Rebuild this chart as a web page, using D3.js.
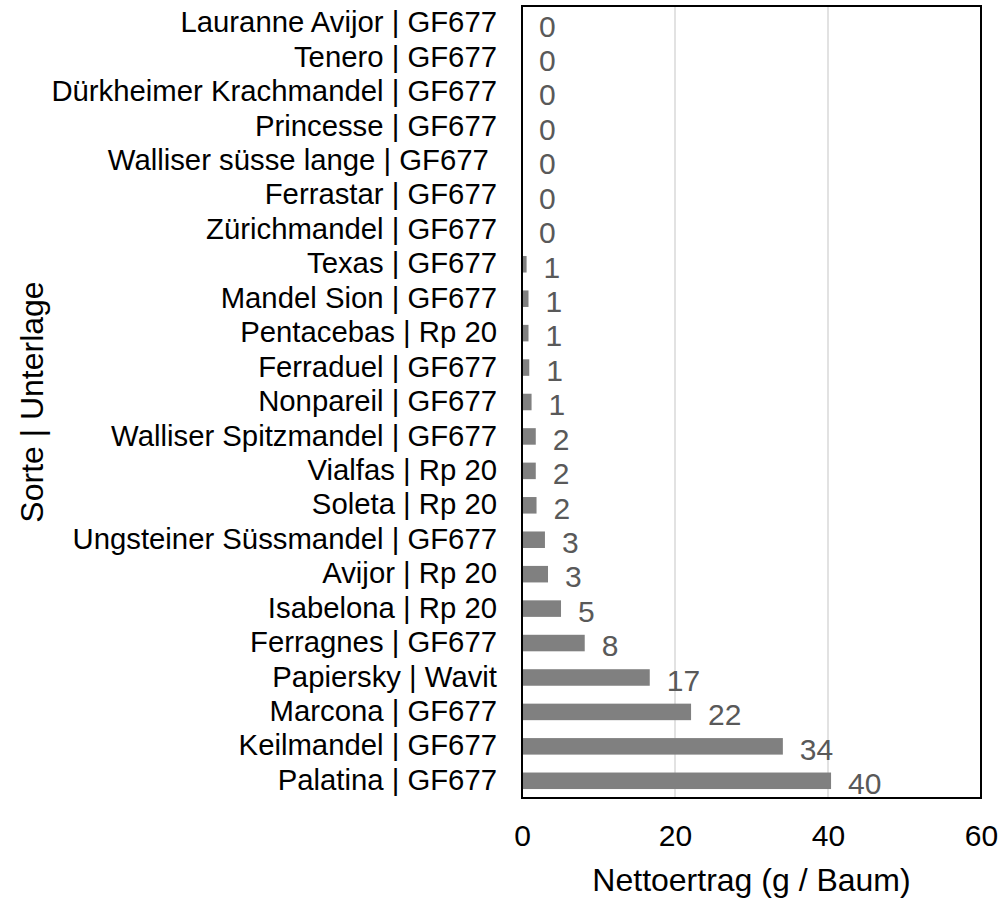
<!DOCTYPE html>
<html><head><meta charset="utf-8">
<script src="https://cdn.jsdelivr.net/npm/d3@7"></script>
<style>body{margin:0;background:#fff}svg{display:block}text{font-family:"Liberation Sans",Arial,sans-serif}</style>
</head><body>
<script>
const categories = ["Lauranne Avijor | GF677","Tenero | GF677","Dürkheimer Krachmandel | GF677","Princesse | GF677","Walliser süsse lange | GF677 ","Ferrastar | GF677","Zürichmandel | GF677","Texas | GF677","Mandel Sion | GF677","Pentacebas | Rp 20","Ferraduel | GF677","Nonpareil | GF677","Walliser Spitzmandel | GF677","Vialfas | Rp 20","Soleta | Rp 20","Ungsteiner Süssmandel | GF677","Avijor | Rp 20","Isabelona | Rp 20","Ferragnes | GF677","Papiersky | Wavit","Marcona | GF677","Keilmandel | GF677","Palatina | GF677"];
const values = [0,0,0,0,0,0,0,0.6,0.85,0.85,0.95,1.25,1.8,1.8,1.9,3.0,3.4,5.1,8.2,16.7,22.1,34.1,40.4];
const xTicks = [0,20,40,60];
const xTitle = "Nettoertrag (g / Baum)";
const yTitle = "Sorte | Unterlage";

const W=1002,H=902;
const m={l:522,r:W-981,t:6,b:H-798};
const FF='"Liberation Sans",Arial,sans-serif';
const svg=d3.select("body").append("svg").attr("width",W).attr("height",H);
const x=d3.scaleLinear().domain([0,60]).range([m.l,W-m.r]);
const y=d3.scaleBand().domain(categories).range([m.t,H-m.b]).paddingInner(0.52).paddingOuter(0.26);
const data=categories.map((c,i)=>({c,v:values[i]}));

svg.append("g").selectAll("line").data(xTicks.filter(t=>t>0&&t<60)).join("line")
 .attr("x1",d=>x(d)).attr("x2",d=>x(d)).attr("y1",m.t).attr("y2",H-m.b)
 .attr("stroke","#d9d9d9").attr("stroke-width",1.5);

svg.append("g").selectAll("rect").data(data).join("rect")
 .attr("x",x(0)).attr("y",d=>y(d.c)).attr("width",d=>x(d.v)-x(0)).attr("height",y.bandwidth())
 .attr("fill","#808080");

svg.append("g").selectAll("text").data(data).join("text")
 .attr("x",d=>x(d.v)+17).attr("y",d=>y(d.c)+y.bandwidth()/2+2.5).attr("dy","0.36em")
 .attr("font-size",30).attr("fill","#595959").text(d=>d3.format(".0f")(d.v));

svg.append("rect").attr("x",m.l).attr("y",m.t).attr("width",x(60)-m.l).attr("height",H-m.b-m.t)
 .attr("fill","none").attr("stroke","#000").attr("stroke-width",2);

const ya=svg.append("g").attr("transform",`translate(${m.l},0)`)
 .call(d3.axisLeft(y).tickSize(0).tickPadding(25));
ya.select(".domain").remove();
ya.selectAll("text").attr("font-size",29.3).attr("dy","0.31em").attr("fill","#000").style("font-family",FF).style("white-space","pre");

const xa=svg.append("g").attr("transform",`translate(0,${H-m.b})`)
 .call(d3.axisBottom(x).tickValues(xTicks).tickSize(0).tickPadding(27));
xa.select(".domain").remove();
xa.selectAll("text").attr("font-size",30).attr("fill","#000").style("font-family",FF);

svg.append("text").attr("x",(m.l+x(60))/2).attr("y",891).attr("text-anchor","middle")
 .attr("font-size",32).text(xTitle);
svg.append("text").attr("transform",`translate(43,${(m.t+H-m.b)/2}) rotate(-90)`).attr("text-anchor","middle")
 .attr("font-size",32).text(yTitle);
</script>
</body></html>
